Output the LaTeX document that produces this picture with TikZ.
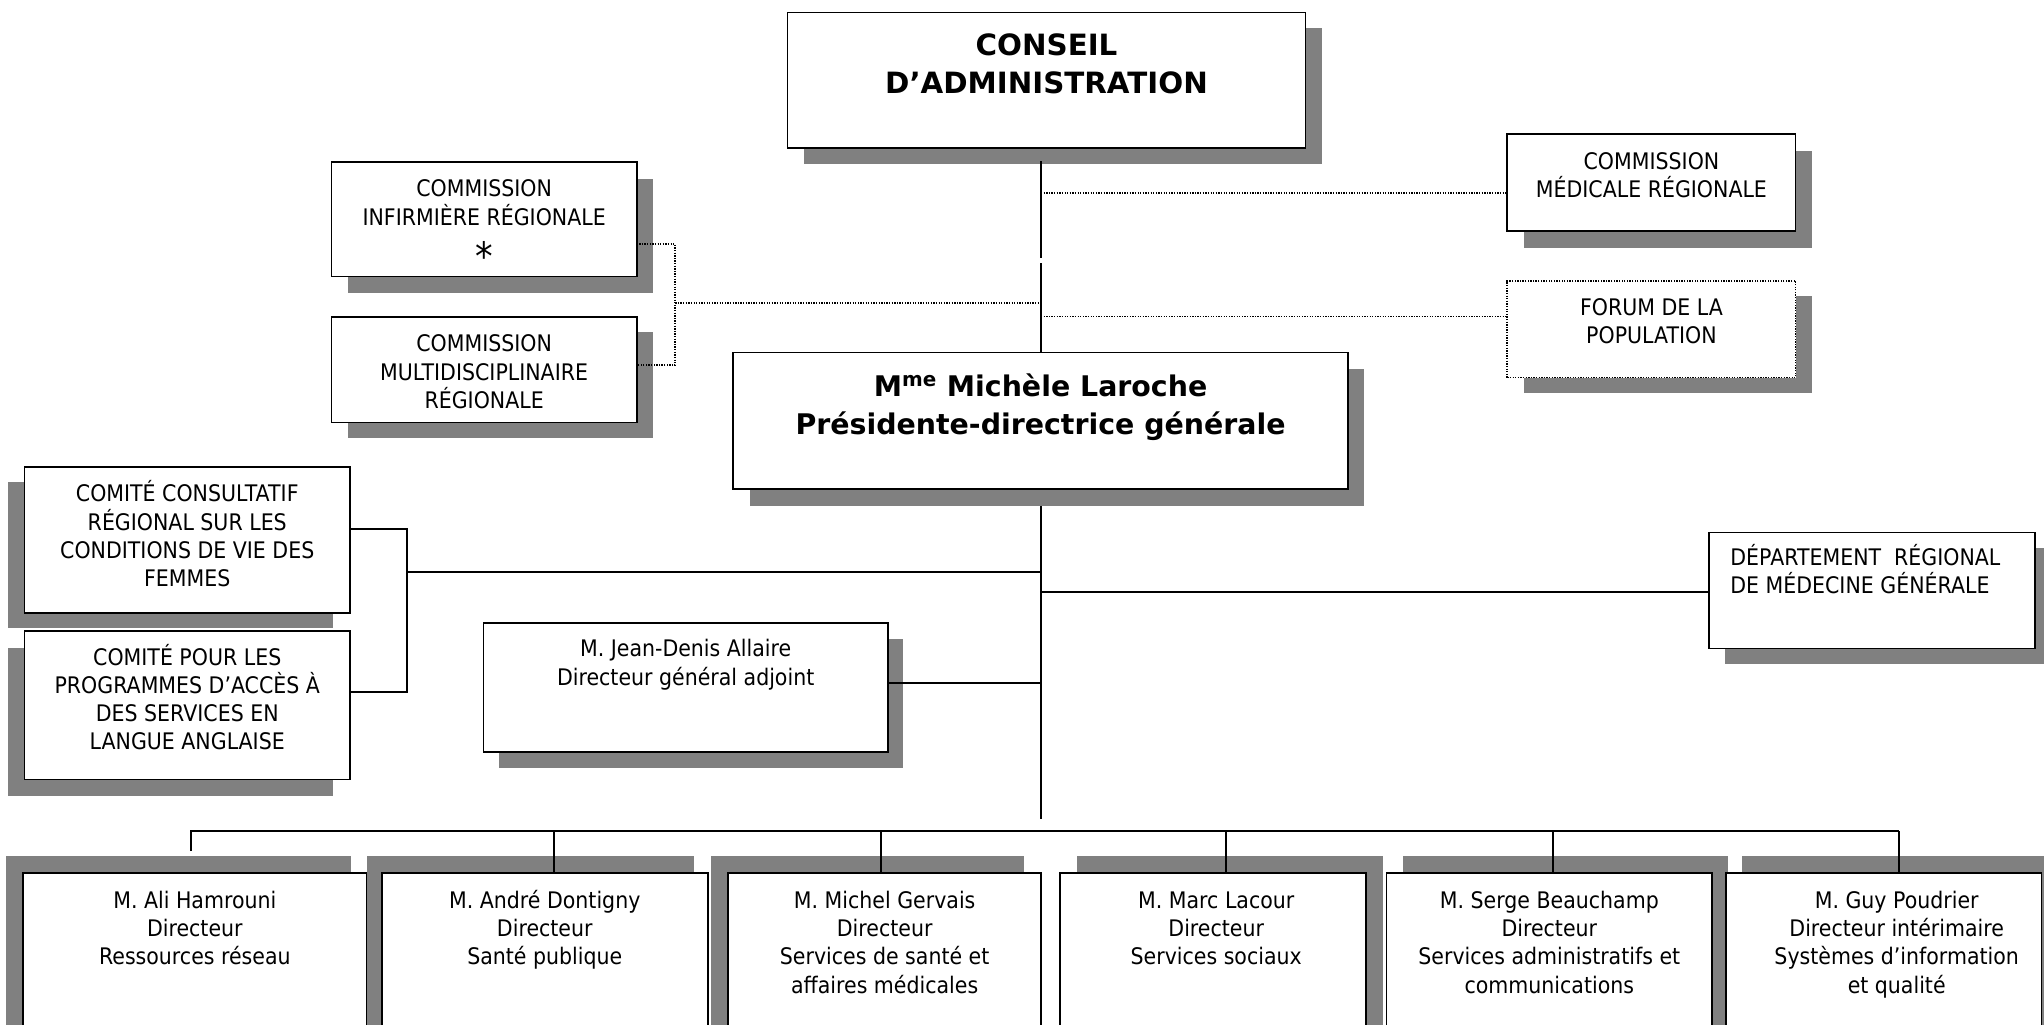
\documentclass[tikz,border=0pt]{standalone}
\usepackage{fontspec}
\setmainfont{DejaVu Sans}[FakeStretch=0.9]
\newfontfamily\titlefont{DejaVu Sans}
\usetikzlibrary{calc}
\definecolor{shadowgray}{HTML}{808080}
\tikzset{
  boxnode/.style={draw=black, line width=1.3pt, fill=white, inner sep=0pt, outer sep=0pt, anchor=north west},
  dotbox/.style={dash pattern=on 1pt off 1pt, line width=1.3pt},
  txt/.style={inner sep=0pt, align=center, anchor=north, font=\fontsize{17.5}{21.7}\selectfont},
  txtl/.style={inner sep=0pt, align=left, anchor=north west, font=\fontsize{17.5}{21.7}\selectfont},
  ttl/.style={inner sep=0pt, align=center, anchor=north},
  conn/.style={line width=1.3pt},
  dotconn/.style={line width=1.3pt, dash pattern=on 1pt off 1pt},
  busline/.style={line width=1.6pt},
}
\newcommand\obox[8][]{%
  \fill[shadowgray] ({#3+#7},{#4+#8}) rectangle ({#5+#7},{#6+#8});
  \pgfmathsetmacro\obw{#5-#3}\pgfmathsetmacro\obh{#6-#4}%
  \node[boxnode,minimum width=\obw pt,minimum height=\obh pt,#1] (#2) at (#3,#4) {};
}
\begin{document}
\begin{tikzpicture}[x=1pt,y=-1pt]
\useasboundingbox (0,0) rectangle (1568,786);
\clip (0,0) rectangle (1568,786);
\fill[white] (0,0) rectangle (1568,786);

% boxes with shadows
\obox{conseil}{604.2}{9.5}{1001.4}{113.8}{12.5}{12.3}
\obox{inf}{254.4}{124.5}{488.4}{212.2}{12.7}{12.5}
\obox{multi}{254.4}{243}{488.4}{324}{12.7}{12}
\obox{med}{1156.3}{102.8}{1377.4}{177.2}{12.5}{12.8}
\obox[dotbox]{forum}{1156.3}{215.3}{1377.4}{289.7}{12.5}{12}
\obox{mme}{562.5}{270.3}{1034}{375.1}{12.5}{12.8}
\obox{comA}{18.8}{358}{268.5}{470}{-13}{12}
\obox{comB}{18.8}{484}{268.5}{598}{-13}{13}
\obox{adj}{371}{478}{681}{577}{12}{12.5}
\obox{dep}{1311}{408.4}{1561}{497.4}{12.3}{12}
\obox{dirA}{17.4}{669.5}{281.5}{800}{-12.5}{-12.5}
\obox{dirB}{292.8}{669.5}{543}{800}{-11}{-12.5}
\obox{dirC}{558.5}{669.5}{798.8}{800}{-13}{-13}
\obox{dirD}{813}{669.5}{1048}{800}{13}{-13}
\obox{dirE}{1063.7}{669.5}{1313.3}{800}{12.5}{-13}
\obox{dirF}{1323.8}{669.5}{1566}{800}{12.5}{-13}

% texts
\node[ttl, font=\titlefont\bfseries\fontsize{22.5}{29.4}\selectfont] (conseil-t) at (802.8,18.2)
  {\rule{0pt}{24pt}CONSEIL\\D’ADMINISTRATION};
\node[ttl, font=\titlefont\bfseries\fontsize{21.8}{29}\selectfont] (mme-t) at (798.25,280)
  {\rule{0pt}{24pt}M\textsuperscript{me} Michèle Laroche\\Présidente-directrice générale};
\node[txt] (inf-t) at (371.4,130.9)
  {\rule{0pt}{20pt}COMMISSION\\INFIRMIÈRE RÉGIONALE\\\smash{\raisebox{-13pt}{\fontsize{30}{30}\selectfont *}}};
\node[txt] (multi-t) at (371.4,249.8)
  {\rule{0pt}{20pt}COMMISSION\\MULTIDISCIPLINAIRE\\RÉGIONALE};
\node[txt] (med-t) at (1266.85,109.9)
  {\rule{0pt}{20pt}COMMISSION\\MÉDICALE RÉGIONALE};
\node[txt] (forum-t) at (1266.85,221.6)
  {\rule{0pt}{20pt}FORUM DE LA\\POPULATION};
\node[txt] (comA-t) at (143.65,364.8)
  {\rule{0pt}{20pt}COMITÉ CONSULTATIF\\RÉGIONAL SUR LES\\CONDITIONS DE VIE DES\\FEMMES};
\node[txt] (comB-t) at (143.65,490)
  {\rule{0pt}{20pt}COMITÉ POUR LES\\PROGRAMMES D’ACCÈS À\\DES SERVICES EN\\LANGUE ANGLAISE};
\node[txt] (adj-t) at (526,483.7)
  {\rule{0pt}{20pt}M. Jean-Denis Allaire\\Directeur général adjoint};
\node[txtl] (dep-t) at (1327.2,413.4)
  {\rule{0pt}{20pt}DÉPARTEMENT~ RÉGIONAL\\DE MÉDECINE GÉNÉRALE};
\node[txt] (dirA-t) at (149.45,676.5)
  {\rule{0pt}{20pt}M. Ali Hamrouni\\Directeur\\Ressources réseau};
\node[txt] (dirB-t) at (417.9,676.5)
  {\rule{0pt}{20pt}M. André Dontigny\\Directeur\\Santé publique};
\node[txt] (dirC-t) at (678.65,676.5)
  {\rule{0pt}{20pt}M. Michel Gervais\\Directeur\\Services de santé et\\affaires médicales};
\node[txt] (dirD-t) at (933,676.5)
  {\rule{0pt}{20pt}M. Marc Lacour\\Directeur\\Services sociaux};
\node[txt] (dirE-t) at (1188.5,676.5)
  {\rule{0pt}{20pt}M. Serge Beauchamp\\Directeur\\Services administratifs et\\communications};
\node[txt] (dirF-t) at (1455,676.5)
  {\rule{0pt}{20pt}M. Guy Poudrier\\Directeur intérimaire\\Systèmes d’information\\et qualité};

% main vertical line
\coordinate (j1) at (798.6,198);
\coordinate (j2) at (798.6,202);
\coordinate (j3) at (798.6,628);
\draw[conn] ($(conseil.south -| j1)+(0,10)$) -- (j1);
\draw[conn] (j2) -- (mme.north -| j2);
\draw[conn] ($(mme.south -| j3)+(0,13)$) -- (j3);

% dotted links
\coordinate (pmed) at (798.6,147.8);
\coordinate (pfor) at (798.6,242.9);
\draw[dotconn] (pmed) -- (pmed -| med.west);
\draw[dotconn] (pfor) -- (pfor -| forum.west);
\coordinate (brk) at (518,232.7);
\coordinate (pinf) at (500,187.4);
\coordinate (pmul) at (500,280.2);
\draw[dotconn] (inf.east |- pinf) -- (pinf -| brk) -- (brk |- pmul) -- (multi.east |- pmul);
\draw[dotconn] (brk) -- (brk -| j1);

% comites bracket
\coordinate (cbr) at (312.1,439);
\coordinate (ca) at (300,405.8);
\coordinate (cb) at (300,531.1);
\draw[conn] (comA.east |- ca) -- (cbr |- ca) -- (cbr |- cb) -- (comB.east |- cb);
\draw[conn] (cbr) -- (cbr -| j1);

% adjoint and departement
\coordinate (ad) at (700,524.2);
\draw[conn] (adj.east |- ad) -- (j1 |- ad);
\coordinate (dp) at (900,453.9);
\draw[conn] (j1 |- dp) -- (dep.west |- dp);

% bottom bus
\coordinate (busL) at (146.5,637.5);
\coordinate (busR) at (1457,637.5);
\coordinate (stubA) at (146.5,653);
\draw[busline] (stubA) -- (busL) -- (busR);
\foreach \n/\x in {dirB/425, dirC/676, dirD/940.6, dirE/1191.5, dirF/1457}
  \draw[conn] (\x,637.5) -- (\n.north -| \x,0);
\end{tikzpicture}
\end{document}
